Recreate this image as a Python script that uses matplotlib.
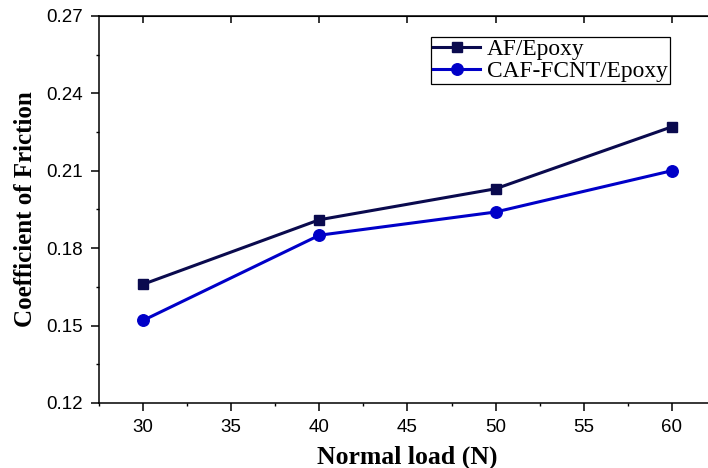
import matplotlib
matplotlib.use("Agg")
import matplotlib.pyplot as plt
from matplotlib.ticker import MultipleLocator

# Coefficient of friction vs. normal load for the two composites
load = [30, 40, 50, 60]
cof_af = [0.166, 0.191, 0.203, 0.227]
cof_caf = [0.152, 0.185, 0.194, 0.210]

labels = ["AF/Epoxy", "CAF-FCNT/Epoxy"]
colors = ["#0a0a4e", "#0000c8"]

fig = plt.figure(figsize=(7.08, 4.68), dpi=100)
ax = fig.add_axes([0.140, 0.139, 0.871, 0.827])

ax.plot(load, cof_af, color=colors[0], lw=2.2, marker="s", ms=7.2, label=labels[0])
ax.plot(load, cof_caf, color=colors[1], lw=2.2, marker="o", ms=8.3, label=labels[1])

ax.set_xlim(27.5, 62.5)
ax.set_ylim(0.12, 0.27)
ax.xaxis.set_major_locator(MultipleLocator(5))
ax.xaxis.set_minor_locator(MultipleLocator(2.5))
ax.yaxis.set_major_locator(MultipleLocator(0.03))
ax.yaxis.set_minor_locator(MultipleLocator(0.015))
ax.yaxis.set_major_formatter(plt.FormatStrFormatter("%.2f"))

for s in ax.spines.values():
    s.set_linewidth(1.1)

ax.tick_params(which="major", direction="out", length=5.5, width=1.1, pad=6,
               labelsize=13.5, labelfontfamily="Liberation Sans")
ax.tick_params(which="minor", direction="out", length=2.5, width=1.0)
# mirrored major ticks on top/right, pointing inward
ax2 = ax.secondary_xaxis("top")
ax2.set_xticks(ax.get_xticks())
ax2.tick_params(direction="in", length=5, width=1.1, labeltop=False)
ax3 = ax.secondary_yaxis("right")
ax3.set_yticks(ax.get_yticks())
ax3.tick_params(direction="in", length=5, width=1.1, labelright=False)

ax.set_xlabel("Normal load (N)", fontfamily="Liberation Serif", fontweight="bold",
              fontsize=18.5, labelpad=7)
ax.set_ylabel("Coefficient of Friction", fontfamily="Liberation Serif", fontweight="bold",
              fontsize=18, labelpad=7)

leg = ax.legend(loc="upper left", bbox_to_anchor=(0.538, 0.946), borderaxespad=0,
                prop={"family": "Liberation Serif", "size": 16.8},
                fancybox=False, edgecolor="black", framealpha=1,
                handlelength=2.0, handletextpad=0.3, borderpad=0.1,
                labelspacing=0.0)
leg.get_frame().set_linewidth(0.9)

fig.savefig("out.png", dpi=100)
